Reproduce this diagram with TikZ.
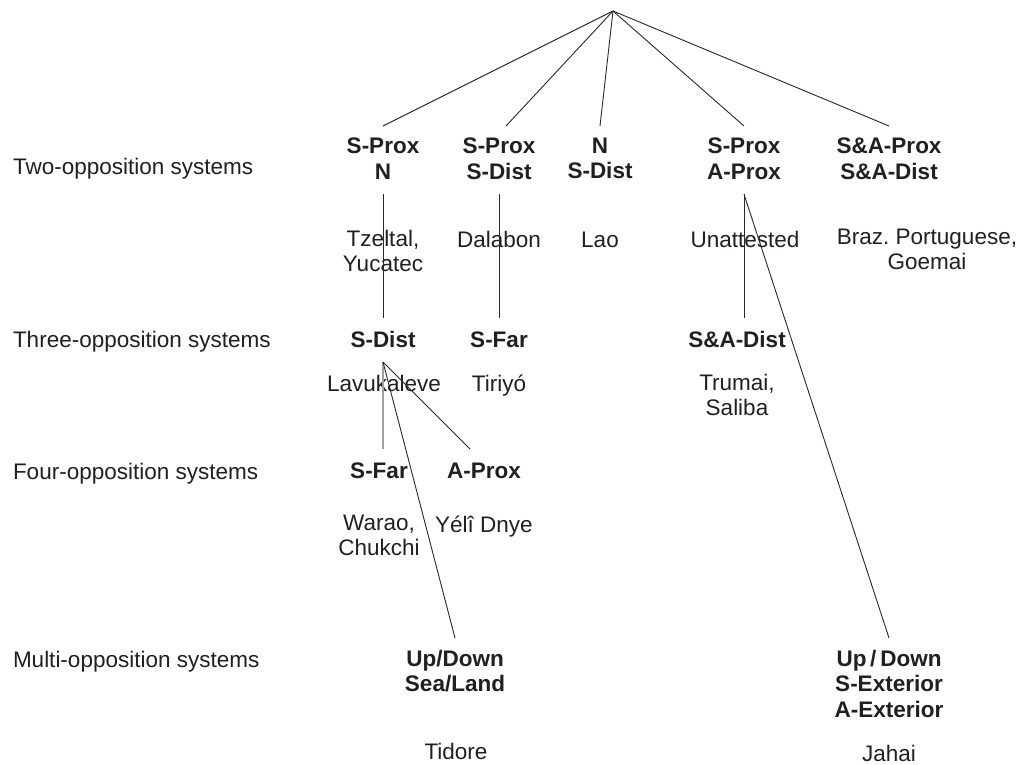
\documentclass[tikz,border=0pt]{standalone}
\usepackage{fontspec}
\setmainfont{Liberation Sans}
\definecolor{txt}{HTML}{231F20}
\definecolor{linec}{HTML}{2A2A2A}
\definecolor{greyline}{HTML}{A0A0A0}
\begin{document}
\frenchspacing
\begin{tikzpicture}[x=1pt,y=-1pt,
  every node/.style={inner sep=0pt, outer sep=12pt, align=center, text=txt,
    font=\fontsize{22.5}{25.5}\selectfont,
    execute at begin node={\rule{0pt}{17pt}},
    execute at end node={\rule[-3pt]{0pt}{3pt}}},
  feat/.style={font=\fontsize{22.5}{25.5}\selectfont\bfseries, anchor=north},
  lang/.style={anchor=north},
  lastlang/.style={anchor=north, execute at end node={}},
  rowlab/.style={anchor=base west, outer sep=0pt},
  link/.style={draw=linec, line width=0.9pt},
  glink/.style={draw=greyline, line width=1.1pt}]
\useasboundingbox (0,0) rectangle (1020,765);
\fill[white] (0,0) rectangle (1020,765);

% row labels
\node[rowlab] (r2) at (13,175) {Two-opposition systems};
\node[rowlab] (r3) at (13,347) {Three-opposition systems};
\node[rowlab] (r4) at (13,479) {Four-opposition systems};
\node[rowlab] (r5) at (13,667) {Multi-opposition systems};

\coordinate (apex) at (613,11);

% two-opposition
\node[feat] (spn)  at (383,126) {S-Prox\\N};
\node[feat] (spsd) at (499,126) {S-Prox\\S-Dist};
\node[feat] (nsd)  at (600,126) {N\\S-Dist};
\node[feat] (spap) at (744,126) {S-Prox\\A-Prox};
\node[feat] (sap)  at (889,126) {S\&A-Prox\\S\&A-Dist};

\node[lang] (tz)   at (383,218) {Tzeltal,\\Yucatec};
\node[lang] (dal)  at (499,218) {Dalabon};
\node[lang] (lao)  at (600,218) {Lao};
\node[lang] (una)  at (745,218) {Unattested};
\node[lang] (braz) at (927,217) {Braz. Portuguese,\\Goemai};

% three-opposition
\node[feat] (sdist)  at (383,318) {S-Dist};
\node[feat] (sfar1)  at (499,318) {S-Far};
\node[feat] (sadist) at (737,318) {S\&A-Dist};

\node[lang] (lav)  at (384,362) {Lavukaleve};
\node[lang] (tir)  at (499,362) {Tiriyó};
\node[lang] (trum) at (737,362) {Trumai,\\Saliba};

% four-opposition
\node[feat] (sfar2) at (379,449) {S-Far};
\node[feat] (aprox) at (484,449) {A-Prox};

\node[lang] (war)  at (379,503) {Warao,\\Chukchi};
\node[lang] (yeli) at (484,503) {Yélî Dnye};

% multi-opposition
\node[feat] (udsl) at (455,638) {Up/Down\\Sea/Land};
\node[feat] (udse) at (889,638) {Up\,/\,Down\\S-Exterior\\A-Exterior};

\node[lastlang] (tid) at (456,730) {Tidore};
\node[lastlang] (jah) at (889,732) {Jahai};

% connectors
\draw[link] (apex) -- (spn.north);
\draw[link] (apex) -- ([xshift=7pt]spsd.north);
\draw[link] (apex) -- (nsd.north);
\draw[link] (apex) -- (spap.north);
\draw[link] (apex) -- (sap.north);

\draw[link] (spn.south) -- (sdist.north);
\draw[link] (spsd.south) -- (sfar1.north);
\draw[link] (spap.south) -- (spap.south |- sadist.north);
\draw[link] (spap.south) -- (udse.north);

\draw[glink] (sdist.south) -- (sdist.south |- sfar2.north);
\draw[link] (sdist.south) -- ([xshift=-14pt]aprox.north);
\draw[link] (sdist.south) -- (udsl.north);
\end{tikzpicture}
\end{document}
